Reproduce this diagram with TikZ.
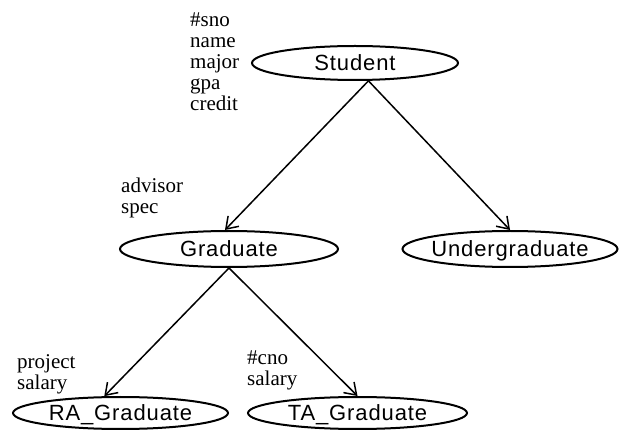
\documentclass[tikz,border=0pt]{standalone}
\usepackage{fontspec}
\setmainfont{Liberation Serif}
\newfontfamily\nodefont[LetterSpace=4]{Liberation Sans}
\usetikzlibrary{shapes.geometric,arrows.meta}
\begin{document}
\begin{tikzpicture}[x=1pt,y=-1pt,
  entity/.style={ellipse, draw, line width=2pt, inner xsep=-20pt, inner ysep=0pt,
    text height=15pt, text depth=0pt, minimum height=34pt,
    font=\nodefont\fontsize{22}{22}\selectfont},
  attr/.style={anchor=north west, inner sep=0pt, align=left,
    font=\fontsize{21}{21}\selectfont},
  isa/.style={line width=1.5pt, -{Straight Barb[length=11pt,width=15pt,line width=1.5pt]}}]
\useasboundingbox (0,0) rectangle (619,430);

\node[entity, minimum width=206pt] (stu) at (355,63) {Student};
\node[entity, minimum width=218pt, minimum height=36pt] (grad) at (229,249) {Graduate};
\node[entity, minimum width=215pt, minimum height=36pt] (ug) at (510,249) {Undergraduate};
\node[entity, minimum width=215pt, minimum height=32pt] (ra) at (120.5,413) {RA\_Graduate};
\node[entity, minimum width=219pt, minimum height=32pt] (ta) at (357.5,413) {TA\_Graduate};

\node[attr] (stuattr) at (190,13) {\#sno\\name\\major\\gpa\\credit};
\node[attr] (gradattr) at (121,178) {advisor\\spec};
\node[attr] (raattr) at (17,354) {project\\salary};
\node[attr] (taattr) at (247,351) {\#cno\\salary};

\draw[isa] (stu.-53) -- (grad.102);
\draw[isa] (stu.-53) -- (ug.north);
\draw[isa] (grad.south) -- (ra.134);
\draw[isa] (grad.south) -- (ta.north);
\end{tikzpicture}
\end{document}
